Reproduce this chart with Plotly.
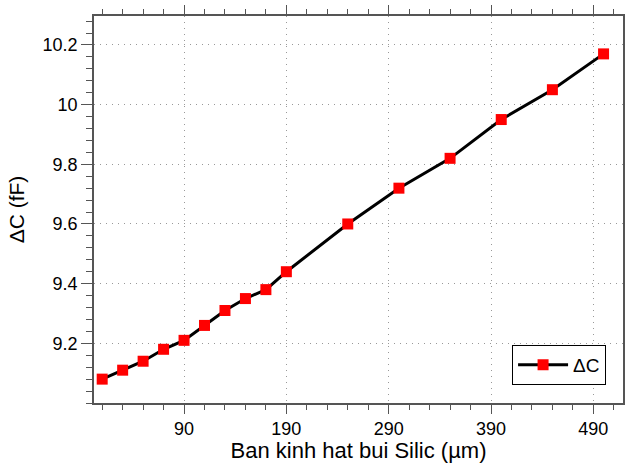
import plotly.graph_objects as go

radius = [10, 30, 50, 70, 90, 110, 130, 150, 170, 190, 250, 300, 350, 400, 450, 500]
delta_c = [9.08, 9.11, 9.14, 9.18, 9.21, 9.26, 9.31, 9.35, 9.38, 9.44, 9.60, 9.72, 9.82, 9.95, 10.05, 10.17]

x_ticks = [90, 190, 290, 390, 490]
y_ticks = [9.2, 9.4, 9.6, 9.8, 10, 10.2]
y_tick_text = ["9.2", "9.4", "9.6", "9.8", "10", "10.2"]

fig = go.Figure()
fig.add_trace(go.Scatter(
    x=radius, y=delta_c, mode="lines+markers", name="ΔC",
    line=dict(color="black", width=3),
    marker=dict(symbol="square", size=11, color="red"),
))

axis_common = dict(
    showline=True, linecolor="#555", linewidth=1.5, mirror="ticks",
    ticks="outside", tickcolor="#555", tickwidth=1,
    showgrid=True, gridcolor="#999", griddash="1px,5px", gridwidth=1,
    zeroline=False, automargin=False,
    tickfont=dict(family="Arial, Liberation Sans", size=18, color="black"),
)

fig.update_layout(
    width=625, height=463,
    margin=dict(l=94, r=2, t=16, b=60),
    paper_bgcolor="white", plot_bgcolor="white",
    font=dict(family="Arial, Liberation Sans", color="black"),
    xaxis=dict(
        axis_common, range=[2, 519], tickvals=x_ticks, ticklen=9,
        minor=dict(tick0=10, dtick=20, ticklen=5, ticks="outside", tickcolor="#555", showgrid=False),
        title=dict(text="Ban kinh hat bui Silic (µm)", font=dict(size=22), standoff=0),
    ),
    yaxis=dict(
        axis_common, range=[9.0, 10.297], tickvals=y_ticks, ticktext=y_tick_text, ticklen=11,
        minor=dict(tick0=9.0, dtick=0.04, ticklen=6, ticks="outside", tickcolor="#555", showgrid=False),
        title=dict(text="ΔC (fF)", font=dict(size=21), standoff=12),
    ),
    legend=dict(
        x=0.968, y=0.047, xanchor="right", yanchor="bottom",
        bordercolor="black", borderwidth=1, bgcolor="white",
        font=dict(size=19), itemwidth=50,
    ),
    showlegend=True,
)

fig.write_html("out.html", config={"displayModeBar": False},
               post_script="document.body.style.margin='0px';")
